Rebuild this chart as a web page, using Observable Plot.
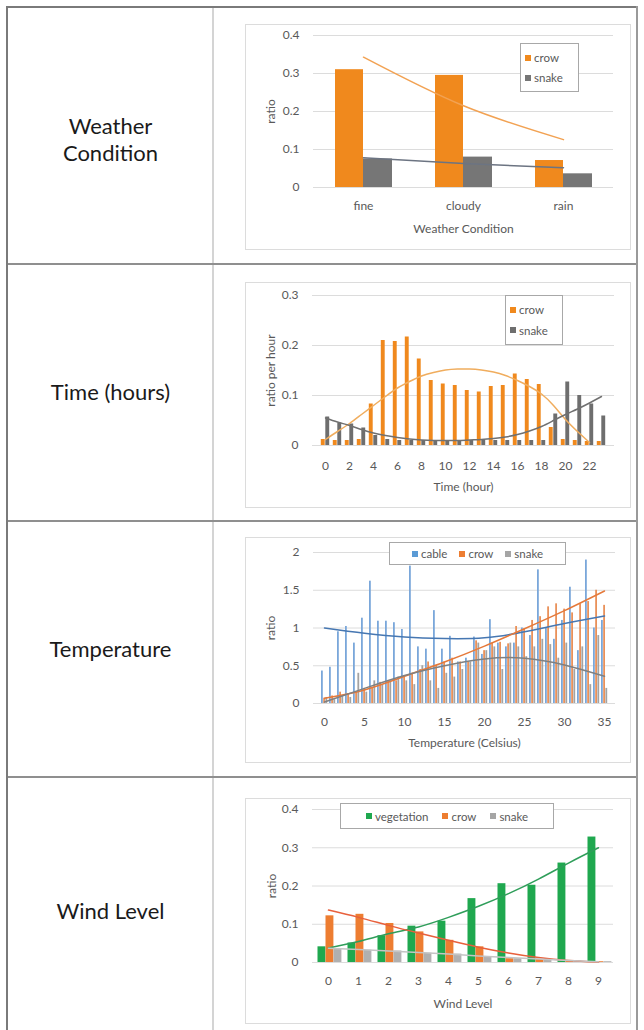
<!DOCTYPE html>
<html><head><meta charset="utf-8">
<script src="https://cdn.jsdelivr.net/npm/d3@7"></script>
<script src="https://cdn.jsdelivr.net/npm/@observablehq/plot@0.6"></script>
<style>
body{margin:0;background:#fff;}
#page{position:relative;width:644px;height:1030px;overflow:hidden;font-family:Lato,"Open Sans",sans-serif;}
.ln{position:absolute;}
.rowlabel{position:absolute;left:8px;width:205px;text-align:center;font-size:22px;line-height:27px;color:#1a1a1a;}
.box{position:absolute;border:1px solid #dcdcdc;box-sizing:border-box;}
.legend{position:absolute;border:1px solid #a8a8a8;background:#fff;box-sizing:border-box;font-size:11.5px;color:#595959;display:flex;}
.legend .it{display:flex;align-items:center;white-space:nowrap;}
.legend .sw{width:6px;height:6px;margin-right:3px;display:inline-block;}
</style></head><body><div id="page"></div>
<script>
// ---------- data ----------
const weatherCats = ["fine", "cloudy", "rain"];
const weatherCrow = [0.31, 0.295, 0.071];
const weatherSnake = [0.075, 0.08, 0.036];
const weatherCrowTrend = [0.343, 0.215, 0.126];
const weatherSnakeTrend = [0.078, 0.063, 0.052];
const weatherYTicks = [0, 0.1, 0.2, 0.3, 0.4];

const hours = [0,1,2,3,4,5,6,7,8,9,10,11,12,13,14,15,16,17,18,19,20,21,22,23];
const hourCrow = [0.012,0.01,0.01,0.012,0.083,0.21,0.208,0.217,0.173,0.13,0.123,0.12,0.11,0.107,0.118,0.12,0.143,0.132,0.122,0.036,0.012,0.01,0.008,0.008];
const hourSnake = [0.057,0.045,0.043,0.035,0.02,0.012,0.01,0.01,0.01,0.01,0.01,0.01,0.01,0.01,0.01,0.01,0.01,0.01,0.01,0.063,0.127,0.1,0.083,0.059];
const hourCrowTrend = [0.012,0.028,0.044,0.062,0.08,0.098,0.115,0.128,0.139,0.146,0.151,0.153,0.153,0.151,0.147,0.14,0.13,0.118,0.103,0.08,0.052,0.028,0.006];
const hourSnakeTrend = [0.055,0.047,0.04,0.032,0.025,0.02,0.016,0.013,0.011,0.01,0.01,0.01,0.011,0.012,0.014,0.017,0.022,0.029,0.038,0.05,0.062,0.073,0.085,0.098];
const hourXTicks = [0,2,4,6,8,10,12,14,16,18,20,22];
const hourYTicks = [0, 0.1, 0.2, 0.3];

const temps = [0,1,2,3,4,5,6,7,8,9,10,11,12,13,14,15,16,17,18,19,20,21,22,23,24,25,26,27,28,29,30,31,32,33,34,35];
const tempCable = [0.43,0.48,0.95,1.02,0.8,1.13,1.62,1.09,1.09,1.07,0.98,1.82,0.75,0.72,1.23,0.72,0.89,0.55,0.6,0.88,0.65,1.11,0.8,0.75,0.8,1.0,0.9,1.77,1.0,0.85,1.1,1.54,0.7,1.9,1.0,1.1];
const tempCrow = [0.07,0.1,0.15,0.13,0.15,0.2,0.2,0.28,0.3,0.3,0.35,0.4,0.45,0.55,0.5,0.55,0.6,0.55,0.55,0.83,0.7,0.8,0.81,0.79,1.02,0.99,1.1,1.15,1.28,1.32,1.25,1.2,1.32,1.35,1.5,1.3];
const tempSnake = [0.08,0.05,0.1,0.08,0.4,0.15,0.3,0.25,0.3,0.35,0.3,0.25,0.5,0.3,0.2,0.4,0.35,0.45,0.55,0.8,0.7,0.75,0.45,0.8,0.75,0.62,0.75,0.85,0.78,0.6,0.8,0.45,0.75,0.25,0.9,0.2];
const tempTrendAt = [0,5,10,15,20,25,30,35];
const tempCableTrend = [1.0,0.93,0.88,0.86,0.87,0.95,1.06,1.16];
const tempCrowTrend = [0.07,0.18,0.36,0.55,0.76,0.99,1.23,1.49];
const tempSnakeTrend = [0.02,0.2,0.37,0.5,0.59,0.6,0.51,0.36];
const tempXTicks = [0,5,10,15,20,25,30,35];
const tempYTicks = [0,0.5,1,1.5,2];

const windLevels = [0,1,2,3,4,5,6,7,8,9];
const windVeg = [0.041,0.051,0.07,0.095,0.108,0.167,0.206,0.202,0.26,0.328];
const windCrow = [0.122,0.126,0.102,0.08,0.058,0.041,0.01,0.008,0.004,0.002];
const windSnake = [0.034,0.032,0.03,0.024,0.022,0.015,0.01,0.006,0.004,0.002];
const windVegTrend = [0.038,0.055,0.075,0.093,0.118,0.147,0.18,0.218,0.26,0.3];
const windCrowTrend = [0.137,0.118,0.097,0.077,0.058,0.04,0.025,0.013,0.005,0.001];
const windSnakeTrend = [0.037,0.034,0.03,0.026,0.022,0.017,0.013,0.009,0.005,0.002];
const windYTicks = [0,0.1,0.2,0.3,0.4];

const rowLabels = [["Weather","Condition"],["Time (hours)"],["Temperature"],["Wind Level"]];

// ---------- styles ----------
const FONT = "Lato, 'Open Sans', sans-serif";
const TEXT = "#595959";
const GRID = "#dcdcdc";
const page = document.getElementById("page");

function addDiv(cls, css, html) {
  const d = document.createElement("div");
  d.className = cls;
  Object.assign(d.style, css);
  if (html !== undefined) d.innerHTML = html;
  page.appendChild(d);
  return d;
}
function place(node, left, top) {
  node.style.position = "absolute";
  node.style.left = left + "px";
  node.style.top = top + "px";
  page.appendChild(node);
}
function legend(left, top, w, h, items, vertical, gap) {
  const d = addDiv("legend", {left: left+"px", top: top+"px", width: w+"px", height: h+"px",
    flexDirection: vertical ? "column" : "row", justifyContent: vertical ? "space-evenly" : "center",
    alignItems: vertical ? "flex-start" : "center", paddingLeft: vertical ? "4px" : "0", gap: vertical ? "0" : gap + "px"});
  items.forEach(([label, color]) => {
    const it = document.createElement("div");
    it.className = "it";
    it.innerHTML = `<span class="sw" style="background:${color}"></span>${label}`;
    d.appendChild(it);
  });
}

// table lines
addDiv("ln", {left:"6px", top:"6px", width:"632px", height:"2px", background:"#7a7a7a"});
addDiv("ln", {left:"6px", top:"6px", width:"2px", height:"1030px", background:"#7a7a7a"});
addDiv("ln", {left:"636px", top:"6px", width:"2px", height:"1030px", background:"#9a9a9a"});
addDiv("ln", {left:"212px", top:"8px", width:"2px", height:"1030px", background:"#d4d4d4"});
[263, 520, 776].forEach(y => addDiv("ln", {left:"8px", top:y+"px", width:"628px", height:"2px", background:"#8f8f8f"}));

// row labels
const labelTops = [112, 378, 635, 897];
rowLabels.forEach((lines, i) => addDiv("rowlabel", {top: labelTops[i] + "px"}, lines.join("<br>")));

// chart boxes
const boxTops = [24, 282, 537, 798];
boxTops.forEach(t => addDiv("box", {left:"245px", top:t+"px", width:"386px", height:"226px"}));

const common = {width: 386, height: 226, style: {fontFamily: FONT, fontSize: "12px", color: TEXT, background: "transparent", overflow: "visible"}};
const yAxisOpts = {tickSize: 0, tickPadding: 14, tickFormat: String, labelAnchor: "center", labelArrow: "none"};
const xAxisOpts = {tickSize: 0, tickPadding: 14, labelAnchor: "center", labelArrow: "none"};

// ---------- chart 1: weather ----------
const weatherData = weatherCats.map((c, i) => ({cat: c, crow: weatherCrow[i], snake: weatherSnake[i], crowT: weatherCrowTrend[i], snakeT: weatherSnakeTrend[i]}));
const c1 = Plot.plot({
  ...common,
  marginLeft: 68, marginRight: 18, marginTop: 11, marginBottom: 63,
  x: {type: "band", domain: weatherCats, padding: 0},
  y: {domain: [0, 0.4]},
  marks: [
    Plot.ruleY(weatherYTicks, {stroke: GRID}),
    Plot.barY(weatherData, {x: "cat", y: "crow", fill: "#f0891d", insetLeft: 22, insetRight: 50}),
    Plot.barY(weatherData, {x: "cat", y: "snake", fill: "#767676", insetLeft: 50, insetRight: 21}),
    Plot.line(weatherData, {x: "cat", y: "crowT", stroke: "#f2a253", strokeWidth: 1.5, curve: "natural"}),
    Plot.line(weatherData, {x: "cat", y: "snakeT", stroke: "#6c7482", strokeWidth: 1.5, curve: "natural"}),
    Plot.axisX({...xAxisOpts, label: "Weather Condition", labelOffset: 45}),
    Plot.axisY({...yAxisOpts, ticks: weatherYTicks, label: "ratio", labelOffset: 47})
  ]
});
place(c1, 245, 24);
legend(520, 43, 59, 49, [["crow", "#f0891d"], ["snake", "#767676"]], true);

// ---------- chart 2: time ----------
const hourData = hours.map((h, i) => ({h, crow: hourCrow[i], snake: hourSnake[i]}));
const hourCrowT = hourCrowTrend.map((v, i) => ({h: hours[i], v}));
const hourSnakeT = hourSnakeTrend.map((v, i) => ({h: hours[i], v}));
const c2 = Plot.plot({
  ...common,
  marginLeft: 67, marginRight: 17, marginTop: 13, marginBottom: 63,
  x: {type: "band", domain: hours, padding: 0},
  y: {domain: [0, 0.3]},
  marks: [
    Plot.ruleY(hourYTicks, {stroke: GRID}),
    Plot.barY(hourData, {x: "h", y: "crow", fill: "#f0891d", insetLeft: 1.8, insetRight: 6.3}),
    Plot.barY(hourData, {x: "h", y: "snake", fill: "#6e6e6e", insetLeft: 6.3, insetRight: 1.8}),
    Plot.line(hourCrowT, {x: "h", y: "v", stroke: "#f0ad5e", strokeWidth: 1.5, curve: "natural"}),
    Plot.line(hourSnakeT, {x: "h", y: "v", stroke: "#707070", strokeWidth: 1.5, curve: "natural"}),
    Plot.axisX({...xAxisOpts, ticks: hourXTicks, tickPadding: 16, label: "Time (hour)", labelOffset: 45}),
    Plot.axisY({...yAxisOpts, ticks: hourYTicks, label: "ratio per hour", labelOffset: 46})
  ]
});
place(c2, 245, 282);
legend(505, 295, 58, 50, [["crow", "#f0891d"], ["snake", "#6e6e6e"]], true);

// ---------- chart 3: temperature ----------
const tempData = temps.map((t, i) => ({t, cable: tempCable[i], crow: tempCrow[i], snake: tempSnake[i]}));
const tempTrend = tempTrendAt.map((t, i) => ({t, cable: tempCableTrend[i], crow: tempCrowTrend[i], snake: tempSnakeTrend[i]}));
const c3 = Plot.plot({
  ...common,
  marginLeft: 68, marginRight: 16, marginTop: 15, marginBottom: 60,
  x: {type: "band", domain: temps, padding: 0},
  y: {domain: [0, 2]},
  marks: [
    Plot.ruleY(tempYTicks, {stroke: GRID}),
    Plot.barY(tempData, {x: "t", y: "cable", fill: "#7aa7da", insetLeft: 1.0, insetRight: 5.2}),
    Plot.barY(tempData, {x: "t", y: "crow", fill: "#e9915a", insetLeft: 3.2, insetRight: 3.0}),
    Plot.barY(tempData, {x: "t", y: "snake", fill: "#a3a3a3", insetLeft: 5.4, insetRight: 0.8}),
    Plot.line(tempTrend, {x: "t", y: "cable", stroke: "#4677b2", strokeWidth: 1.5, curve: "natural"}),
    Plot.line(tempTrend, {x: "t", y: "crow", stroke: "#e5793a", strokeWidth: 1.5, curve: "natural"}),
    Plot.line(tempTrend, {x: "t", y: "snake", stroke: "#808080", strokeWidth: 1.5, curve: "natural"}),
    Plot.axisX({...xAxisOpts, ticks: tempXTicks, tickPadding: 14, label: "Temperature (Celsius)", labelOffset: 43}),
    Plot.axisY({...yAxisOpts, ticks: tempYTicks, label: "ratio", labelOffset: 47})
  ]
});
place(c3, 245, 537);
legend(389, 542, 177, 23, [["cable", "#5b9bd5"], ["crow", "#ed7d31"], ["snake", "#a5a5a5"]], false, 12);

// ---------- chart 4: wind ----------
const windData = windLevels.map((w, i) => ({w, veg: windVeg[i], crow: windCrow[i], snake: windSnake[i], vegT: windVegTrend[i], crowT: windCrowTrend[i], snakeT: windSnakeTrend[i]}));
const c4 = Plot.plot({
  ...common,
  marginLeft: 67, marginRight: 18, marginTop: 11, marginBottom: 62,
  x: {type: "band", domain: windLevels, padding: 0},
  y: {domain: [0, 0.4]},
  marks: [
    Plot.ruleY(windYTicks, {stroke: GRID}),
    Plot.barY(windData, {x: "w", y: "veg", fill: "#1fa84f", insetLeft: 4.5, insetRight: 17.6}),
    Plot.barY(windData, {x: "w", y: "crow", fill: "#ed7d31", insetLeft: 12.5, insetRight: 9.6}),
    Plot.barY(windData, {x: "w", y: "snake", fill: "#b0b0b0", insetLeft: 20.5, insetRight: 1.6}),
    Plot.line(windData, {x: "w", y: "vegT", stroke: "#2f9e5a", strokeWidth: 1.5, curve: "natural"}),
    Plot.line(windData, {x: "w", y: "crowT", stroke: "#e8603c", strokeWidth: 1.5, curve: "natural"}),
    Plot.line(windData, {x: "w", y: "snakeT", stroke: "#c4c4c4", strokeWidth: 1.5, curve: "natural"}),
    Plot.axisX({...xAxisOpts, label: "Wind Level", labelOffset: 45}),
    Plot.axisY({...yAxisOpts, ticks: windYTicks, label: "ratio", labelOffset: 45})
  ]
});
place(c4, 245, 798);
legend(340, 803, 214, 26, [["vegetation", "#1fa84f"], ["crow", "#ed7d31"], ["snake", "#a5a5a5"]], false, 14);
</script></body></html>
